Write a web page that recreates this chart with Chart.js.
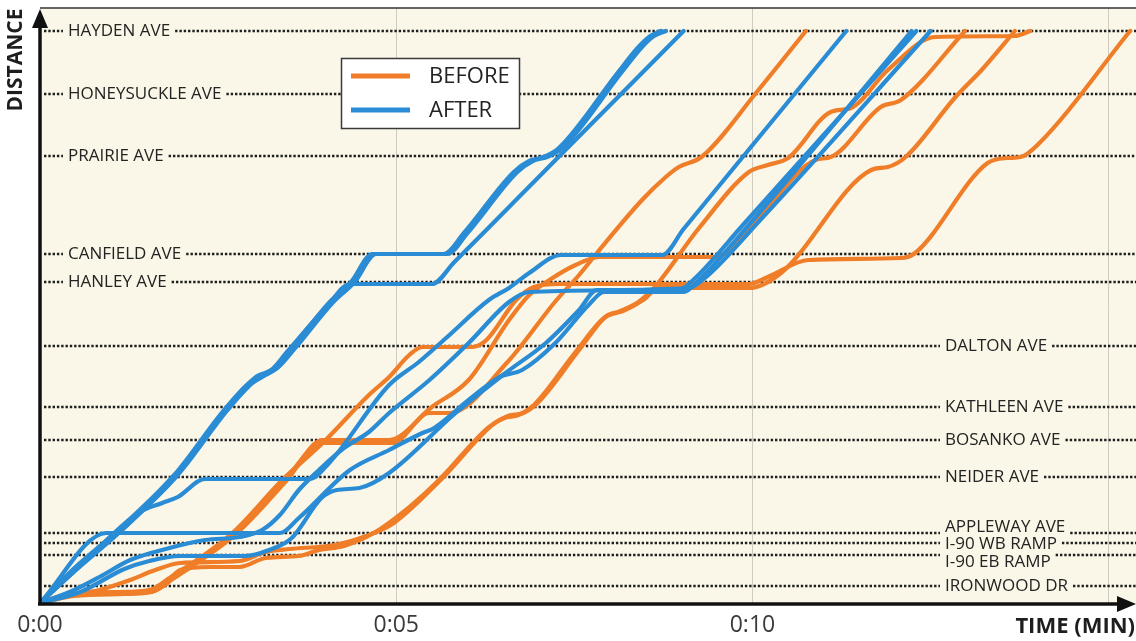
<!DOCTYPE html>
<html>
<head>
<meta charset="utf-8">
<title>Time-space diagram, before / after</title>
<script src="https://cdn.jsdelivr.net/npm/chart.js@4.4.1/dist/chart.umd.min.js"></script>
<style>
  html, body { margin: 0; padding: 0; background: #fff; }
  canvas { display: block; }
</style>
</head>
<body>
<canvas id="timeSpace" width="1136" height="641"></canvas>
<script>
// cross streets, distance along the corridor (same unit as the runs below)
const streetNames = ['HAYDEN AVE', 'HONEYSUCKLE AVE', 'PRAIRIE AVE', 'CANFIELD AVE', 'HANLEY AVE',
  'DALTON AVE', 'KATHLEEN AVE', 'BOSANKO AVE', 'NEIDER AVE', 'APPLEWAY AVE',
  'I-90 WB RAMP', 'I-90 EB RAMP', 'IRONWOOD DR'];
const streetDist = [572, 509, 447, 349, 321, 257, 196, 163, 126, 70, 60, 48, 17];

// time axis, seconds
const timeTicks = [0, 300, 600, 900];
const timeTickLabels = ['0:00', '0:05', '0:10', ''];

// probe runs: [seconds, distance]
const afterRun1 = [[0,0],[29,35],[63,70],[113,128],[155,193],[176,220],[187,228],[197,235],[212,255],[244,301],[262,321],[280,349],[340,349],[357,370],[399,431],[412,442],[424,446],[437,455],[487,531],[504,556],[514,567],[523,572]];
const afterRun2 = [[0,0],[32,35],[66,70],[116,128],[158,193],[179,220],[190,228],[200,235],[215,255],[247,301],[265,321],[283,349],[343,349],[360,370],[402,431],[415,442],[427,446],[440,455],[490,531],[507,556],[517,567],[527,572]];
const afterRun3 = [[0,0],[35,38],[69,73],[119,133],[160,199],[183,227],[195,233],[208,251],[242,297],[261,319],[330,319],[349,341],[445,456],[542,572]];
const afterRun4 = [[0,0],[42,47],[84,91],[103,100],[116,106],[139,124],[227,124],[242,138],[294,218],[319,241],[342,265],[378,303],[395,315],[412,330],[439,348],[524,348],[542,374],[679,572]];
const afterRun5 = [[0,0],[56,70],[202,70],[218,85],[261,133],[294,153],[322,170],[332,175],[361,203],[387,226],[406,233],[434,260],[462,298],[475,311],[542,311],[555,323],[597,378],[734,572]];
const afterRun6 = [[0,0],[34,11],[71,34],[92,42],[118,47],[172,47],[193,53],[212,65],[237,105],[250,113],[269,115],[294,130],[350,190],[392,230],[426,260],[454,293],[469,313],[538,313],[550,323],[592,378],[738,572]];
const afterRun7 = [[0,0],[25,11],[50,26],[76,43],[109,55],[139,63],[168,66],[187,73],[202,88],[218,113],[235,133],[256,155],[277,171],[294,190],[328,223],[361,260],[395,301],[412,311],[546,315],[560,325],[605,381],[750,572]];

const beforeRun1 = [[0,0],[25,8],[67,10],[92,12],[111,25],[164,70],[206,123],[238,160],[297,160],[328,190],[345,190],[393,240],[435,303],[454,328],[469,350],[507,403],[527,426],[538,436],[557,446],[605,513],[645,572]];
const beforeRun2 = [[0,0],[29,7],[71,9],[94,11],[113,25],[166,70],[208,123],[238,163],[294,163],[330,196],[361,223],[395,283],[412,308],[429,323],[451,338],[471,346],[569,346],[603,383],[653,443],[666,446],[708,496],[725,503],[779,572]];
const beforeRun3 = [[0,0],[17,7],[50,10],[92,11],[105,18],[118,33],[143,36],[168,36],[190,45],[218,47],[235,53],[256,57],[281,70],[311,96],[336,123],[378,176],[391,185],[403,188],[416,198],[451,251],[475,285],[487,291],[504,301],[517,315],[555,375],[597,431],[613,438],[630,445],[666,491],[683,495],[714,533],[754,566],[821,567],[834,572]];
const beforeRun4 = [[0,0],[25,8],[50,13],[76,23],[97,33],[118,40],[168,42],[190,51],[210,54],[248,58],[277,68],[298,80],[339,125],[381,178],[394,187],[407,190],[419,200],[454,253],[477,287],[491,292],[508,303],[521,315],[597,315],[624,330],[700,433],[714,436],[729,446],[771,506],[793,533],[821,572]];
const beforeRun5 = [[0,0],[25,9],[67,11],[92,13],[109,25],[162,70],[204,123],[238,160],[277,208],[294,226],[311,248],[322,256],[364,256],[376,263],[401,303],[416,316],[437,319],[597,319],[613,326],[647,343],[725,345],[737,350],[798,440],[815,445],[826,446],[840,458],[918,572]];

const afterRuns = [afterRun1, afterRun2, afterRun3, afterRun4, afterRun5, afterRun6, afterRun7];
const beforeRuns = [beforeRun1, beforeRun2, beforeRun3, beforeRun4, beforeRun5];

const ORANGE = '#f07d28';
const BLUE = '#2a8cd5';
const INK = '#232323';
const FONT = '"Open Sans", "DejaVu Sans", sans-serif';

const leftLabels = new Set(['HAYDEN AVE', 'HONEYSUCKLE AVE', 'PRAIRIE AVE', 'CANFIELD AVE', 'HANLEY AVE']);
const labelNudge = { 'APPLEWAY AVE': -6, 'I-90 WB RAMP': 1, 'I-90 EB RAMP': 7 };

function toPoints(run) {
  return run.map(([t, d]) => ({ x: t, y: d }));
}

function runDataset(run, label, color) {
  return {
    label: label,
    data: toPoints(run),
    borderColor: color,
    borderWidth: 4.2,
    pointRadius: 0,
    fill: false,
    cubicInterpolationMode: 'monotone',
    borderJoinStyle: 'round',
    borderCapStyle: 'round'
  };
}

// blue first so it sits on top (dataset 0 is drawn last)
const datasets = afterRuns.map(r => runDataset(r, 'AFTER', BLUE))
  .concat(beforeRuns.map(r => runDataset(r, 'BEFORE', ORANGE)));

const decor = {
  id: 'decor',
  beforeDraw(chart) {
    const { ctx, chartArea: a } = chart;
    ctx.save();
    ctx.fillStyle = '#ffffff';
    ctx.fillRect(0, 0, chart.width, chart.height);
    ctx.fillStyle = '#faf7e8';
    ctx.fillRect(a.left, a.top, a.right - a.left, a.bottom - a.top);
    ctx.restore();
  },
  beforeDatasetsDraw(chart) {
    const { ctx, chartArea: a, scales: { y } } = chart;
    ctx.save();
    ctx.font = '17px ' + FONT;
    ctx.textBaseline = 'middle';
    streetNames.forEach((name, i) => {
      const yy = y.getPixelForValue(streetDist[i]);
      const tx = leftLabels.has(name) ? a.left + 28 : a.left + 905;
      const tw = ctx.measureText(name).width;
      ctx.strokeStyle = '#1f1f1f';
      ctx.lineWidth = 2.6;
      ctx.setLineDash([2.4, 1.9]);
      ctx.beginPath();
      ctx.moveTo(a.left + 4, yy);
      ctx.lineTo(tx - 5, yy);
      ctx.moveTo(tx + tw + 5, yy);
      ctx.lineTo(a.right, yy);
      ctx.stroke();
      ctx.setLineDash([]);
      ctx.fillStyle = INK;
      ctx.fillText(name, tx, yy + (labelNudge[name] || 0));
    });
    ctx.restore();
  },
  afterDatasetsDraw(chart) {
    const { ctx, chartArea: a } = chart;
    ctx.save();

    // legend
    ctx.fillStyle = '#ffffff';
    ctx.fillRect(341, 58, 178, 70);
    ctx.strokeStyle = '#3a3a3a';
    ctx.lineWidth = 1.5;
    ctx.strokeRect(341.5, 58.5, 178, 70);
    ctx.lineWidth = 5;
    ctx.strokeStyle = ORANGE;
    ctx.beginPath(); ctx.moveTo(351, 76); ctx.lineTo(410, 76); ctx.stroke();
    ctx.strokeStyle = BLUE;
    ctx.beginPath(); ctx.moveTo(351, 110); ctx.lineTo(410, 110); ctx.stroke();
    ctx.fillStyle = INK;
    ctx.font = '22px ' + FONT;
    ctx.textBaseline = 'middle';
    ctx.textAlign = 'left';
    ctx.fillText('BEFORE', 429, 77);
    ctx.fillText('AFTER', 429, 111);

    // frame top
    ctx.strokeStyle = '#333';
    ctx.lineWidth = 1.5;
    ctx.beginPath(); ctx.moveTo(a.left, a.top); ctx.lineTo(a.right, a.top); ctx.stroke();

    // axes with arrows
    ctx.strokeStyle = '#111';
    ctx.fillStyle = '#111';
    ctx.lineWidth = 3.5;
    ctx.beginPath();
    ctx.moveTo(a.left, a.bottom + 2);
    ctx.lineTo(a.left, a.top + 18);
    ctx.moveTo(a.left - 2, a.bottom + 1);
    ctx.lineTo(a.right - 16, a.bottom + 1);
    ctx.stroke();
    ctx.beginPath();
    ctx.moveTo(a.left, a.top + 1);
    ctx.lineTo(a.left - 8, a.top + 20);
    ctx.lineTo(a.left + 8, a.top + 20);
    ctx.closePath();
    ctx.fill();
    ctx.beginPath();
    ctx.moveTo(a.right, a.bottom + 1);
    ctx.lineTo(a.right - 19, a.bottom - 7);
    ctx.lineTo(a.right - 19, a.bottom + 9);
    ctx.closePath();
    ctx.fill();

    // axis titles
    ctx.fillStyle = '#1e1e1e';
    ctx.font = 'bold 21px ' + FONT;
    ctx.textAlign = 'center';
    ctx.textBaseline = 'middle';
    ctx.save();
    ctx.translate(16, 60);
    ctx.rotate(-Math.PI / 2);
    ctx.fillText('DISTANCE', 0, 0);
    ctx.restore();
    ctx.font = 'bold 22px ' + FONT;
    ctx.textAlign = 'right';
    ctx.fillText('TIME (MIN)', chart.width - 1, 627);

    ctx.restore();
  }
};

new Chart(document.getElementById('timeSpace'), {
  type: 'line',
  data: { datasets: datasets },
  options: {
    responsive: false,
    animation: false,
    devicePixelRatio: 1,
    layout: { padding: { top: 8, left: 40, right: 0, bottom: 0 } },
    plugins: {
      legend: { display: false },
      tooltip: { enabled: false }
    },
    scales: {
      x: {
        type: 'linear',
        min: 0,
        max: 923,
        afterBuildTicks: (s) => { s.ticks = timeTicks.map(v => ({ value: v })); },
        afterFit: (s) => { s.height = 38; },
        ticks: {
          autoSkip: false,
          maxRotation: 0,
          padding: 9,
          color: '#3a3a3a',
          font: { family: 'Open Sans', size: 23 },
          callback: (v) => timeTickLabels[timeTicks.indexOf(v)] ?? ''
        },
        grid: {
          drawTicks: false,
          lineWidth: 1,
          color: (c) => (c.tick && c.tick.value === 0) ? 'rgba(0,0,0,0)' : '#cdcbc2'
        },
        border: { display: false }
      },
      y: {
        type: 'linear',
        display: false,
        min: 0,
        max: 595
      }
    }
  },
  plugins: [decor]
});
</script>
</body>
</html>
